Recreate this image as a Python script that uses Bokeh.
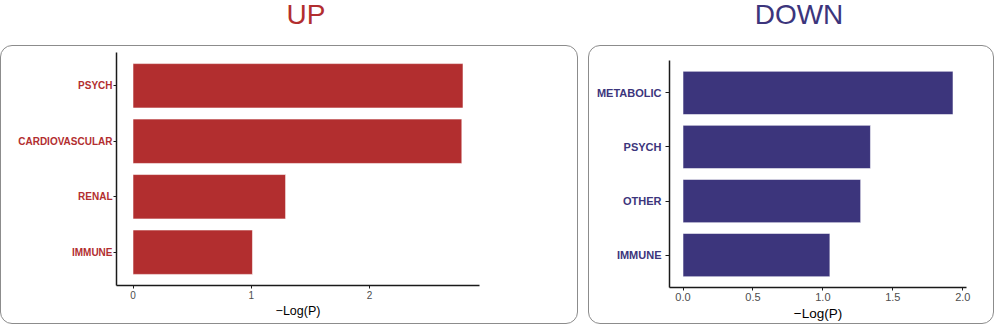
from bokeh.plotting import figure
from bokeh.models import FactorRange, Range1d, FixedTicker, Div, ColumnDataSource, PrintfTickFormatter
from bokeh.layouts import row, column
from bokeh.embed import file_html
from bokeh.resources import INLINE

# ---- data ----
up_categories = ["PSYCH", "CARDIOVASCULAR", "RENAL", "IMMUNE"]
up_values = [2.79, 2.78, 1.29, 1.01]
up_ticks = [0, 1, 2]

down_categories = ["METABOLIC", "PSYCH", "OTHER", "IMMUNE"]
down_values = [1.93, 1.34, 1.27, 1.05]
down_ticks = [0.0, 0.5, 1.0, 1.5, 2.0]

x_label = "\u2212Log(P)"

RED = "#B22E2F"
NAVY = "#3C357C"
FONT = "Liberation Sans"


def make_panel(cats, vals, ticks, color, width, height, borders, tick_out, y_standoff,
               fmt, fs_tick, fs_label):
    xmax = max(vals)
    pad = 0.05 * xmax
    p = figure(
        width=width, height=height,
        y_range=FactorRange(factors=list(reversed(cats)), range_padding=0.1,
                            range_padding_units="absolute"),
        x_range=Range1d(-pad, xmax + pad),
        output_backend="svg", toolbar_location=None,
        min_border_left=borders[0], min_border_right=borders[1],
        min_border_top=borders[2], min_border_bottom=borders[3],
        margin=0,
        styles={"outline": "1.5px solid #8c8c8c", "outline-offset": "-1.5px",
                "border-radius": "12px"},
    )
    src = ColumnDataSource(dict(cat=cats, val=vals))
    p.hbar(y="cat", right="val", left=0, height=0.8, source=src,
           fill_color=color, line_color="white", line_alpha=0.55, line_width=1)
    p.xgrid.visible = False
    p.ygrid.visible = False
    p.outline_line_color = None
    p.background_fill_color = "white"
    p.border_fill_color = None

    p.xaxis.ticker = FixedTicker(ticks=ticks)
    if fmt:
        p.xaxis.formatter = PrintfTickFormatter(format=fmt)
    p.xaxis.axis_label = x_label
    for ax in (p.xaxis, p.yaxis):
        ax.axis_line_color = "#1a1a1a"
        ax.axis_line_width = 1.5
        ax.major_tick_line_color = "#1a1a1a"
        ax.major_tick_in = 0
        ax.minor_tick_line_color = None
    p.xaxis.major_tick_out = 3
    p.xaxis.major_label_standoff = 2
    p.xaxis.major_label_text_font = FONT
    p.xaxis.major_label_text_font_size = fs_tick
    p.xaxis.major_label_text_color = "#4d4d4d"
    p.xaxis.axis_label_text_font = FONT
    p.xaxis.axis_label_text_font_size = fs_label
    p.xaxis.axis_label_text_font_style = "normal"
    p.xaxis.axis_label_text_color = "black"
    p.xaxis.axis_label_standoff = 2

    p.yaxis.major_tick_out = tick_out
    p.yaxis.major_label_standoff = y_standoff
    p.yaxis.major_label_text_font = FONT
    p.yaxis.major_label_text_font_size = fs_tick
    p.yaxis.major_label_text_font_style = "bold"
    p.yaxis.major_label_text_color = color
    return p


def title_div(text, color, width, center):
    html = (f'<div style="width:{2*center}px;text-align:center;'
            f"font-family:'{FONT}',Arial,sans-serif;font-size:28px;line-height:28px;"
            f'color:{color};margin-top:1px">{text}</div>')
    return Div(text=html, width=width, height=45, margin=0,
               styles={"overflow": "visible"})


p_up = make_panel(up_categories, up_values, up_ticks, RED, 578, 279,
                  (116, 99, 7, 39), 3, 1, None, "10px", "12.5px")
p_down = make_panel(down_categories, down_values, down_ticks, NAVY, 406, 279,
                    (81, 28, 15, 37), 4, 4, "%.1f", "11px", "13.5px")

left = column(title_div("UP", RED, 578, 306), p_up, spacing=0, margin=0)
right = column(title_div("DOWN", NAVY, 406, 211), p_down, spacing=0, margin=0)
layout = row(left, right, spacing=10, margin=0)

open("out.html", "w").write(file_html(layout, INLINE))
